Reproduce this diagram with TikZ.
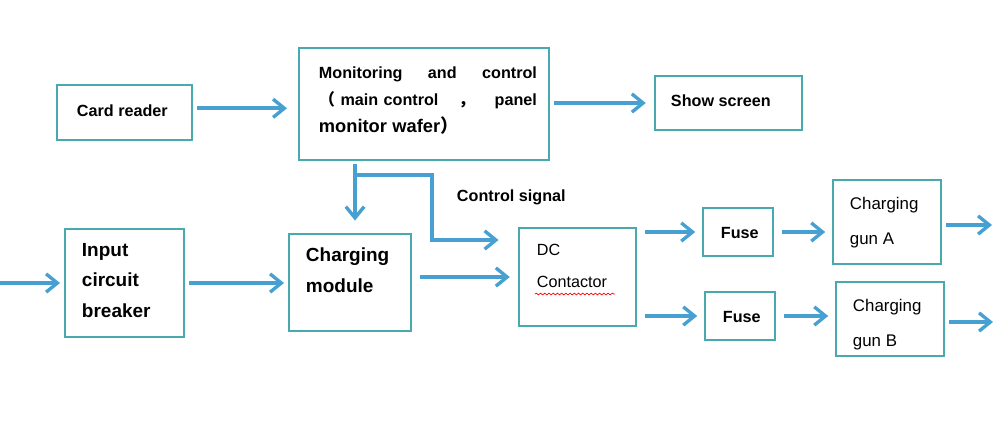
\documentclass[tikz,border=0pt]{standalone}
\usepackage{fontspec}
\setmainfont{Liberation Sans}
\newfontfamily\cjk{Noto Sans CJK SC}
\usetikzlibrary{arrows.meta, decorations.pathmorphing}
\definecolor{boxline}{RGB}{72,170,175}
\definecolor{arrowc}{RGB}{70,160,210}
\begin{document}
\begin{tikzpicture}[x=0.025cm, y=-0.025cm,
    box/.style={draw=boxline, line width=1.1pt, inner sep=0pt},
    lbl/.style={font=\bfseries\fontsize{11.5}{19}\selectfont, align=left, anchor=north west},
    big/.style={font=\bfseries\fontsize{13.5}{22}\selectfont, align=left, anchor=north west},
    flow/.style={draw=arrowc, line width=2.8pt, -{Straight Barb[length=8pt,width=13pt,line width=2.4pt]}}]
\useasboundingbox (0,0) rectangle (1000,424);
% boxes
\node[box, minimum width=135*0.025cm, minimum height=55*0.025cm] (card) at (124.5,112.5) {};
\node[box, minimum width=250*0.025cm, minimum height=112*0.025cm] (mon) at (424,104) {};
\node[box, minimum width=147*0.025cm, minimum height=54*0.025cm] (screen) at (728.5,103) {};
\node[box, minimum width=119*0.025cm, minimum height=108*0.025cm] (inp) at (124.5,283) {};
\node[box, minimum width=122*0.025cm, minimum height=97*0.025cm] (mod) at (350,282.5) {};
\node[box, minimum width=117*0.025cm, minimum height=98*0.025cm] (dc) at (577.5,277) {};
\node[box, minimum width=70*0.025cm, minimum height=48*0.025cm] (fusea) at (738,232) {};
\node[box, minimum width=70*0.025cm, minimum height=48*0.025cm] (fuseb) at (740,316) {};
\node[box, minimum width=108*0.025cm, minimum height=84*0.025cm] (guna) at (887,222) {};
\node[box, minimum width=108*0.025cm, minimum height=74*0.025cm] (gunb) at (890,319) {};
% texts
\node[lbl] (tcard) at (72,100) {Card reader};
\node[lbl, text width=218*0.025cm] (tmon) at (314,62) {Monitoring \hfill and \hfill control\\
  {\cjk （} main control \hfill {\cjk ，} \hfill panel\\ {\fontsize{13}{19}\selectfont monitor wafer{\cjk ）}}};
\node[lbl] (tscreen) at (666,90) {Show screen};
\node[big] (tinp) at (77,238) {Input\\circuit\\breaker};
\node[big] (tmod) at (301,243) {Charging\\module};
\node[lbl, font=\mdseries\fontsize{11.5}{23}\selectfont] (tdc) at (532,239) {DC\\Contactor};
\node[lbl] (tfusea) at (716,222) {Fuse};
\node[lbl] (tfuseb) at (718,306) {Fuse};
\node[lbl, font=\mdseries\fontsize{12}{25}\selectfont] (tguna) at (845,192) {Charging\\gun A};
\node[lbl, font=\mdseries\fontsize{12}{25}\selectfont] (tgunb) at (848,294) {Charging\\gun B};
\node[lbl] (tsig) at (452,185) {Control signal};
\draw[red, line width=0.5pt, decorate, decoration={snake, amplitude=0.6pt, segment length=3pt}]
  (535,294) -- (615,294);
% free ends
\coordinate (inl) at (0,283);
\coordinate (outa) at (992,225);
\coordinate (outb) at (993,322);
\coordinate (split) at (355,175);
\coordinate (bend1) at (432,175);
\coordinate (bend2) at (432,240);
% connectors
\draw[flow] ([xshift=3pt,yshift=3pt]card.east) -- ([xshift=-8pt,yshift=3pt]mon.west |- card.east);
\draw[flow] ([xshift=3pt]mon.east |- screen.west) -- ([xshift=-6pt]screen.west);
\draw[flow] (inl) -- ([xshift=-3pt]inp.west);
\draw[flow] ([xshift=3pt]inp.east) -- ([xshift=-3pt]mod.west |- inp.east);
\draw[flow] ([yshift=-2pt]mon.south -| split) -- ([yshift=9pt]mod.north -| split);
\draw[flow] (split) -- (bend1) -- (bend2) -- ([xshift=-14pt]dc.west |- bend2);
\draw[flow] ([xshift=6pt]mod.east |- dc.west) -- ([xshift=-6pt]dc.west);
\draw[flow] ([xshift=6pt]dc.east |- fusea.west) -- ([xshift=-5pt]fusea.west);
\draw[flow] ([xshift=6pt]dc.east |- fuseb.west) -- ([xshift=-5pt]fuseb.west);
\draw[flow] ([xshift=6pt]fusea.east) -- ([xshift=-5pt]guna.west |- fusea.east);
\draw[flow] ([xshift=6pt]fuseb.east) -- ([xshift=-5pt]gunb.west |- fuseb.east);
\draw[flow] ([xshift=3pt]guna.east |- outa) -- (outa);
\draw[flow] ([xshift=3pt]gunb.east |- outb) -- (outb);
\end{tikzpicture}
\end{document}
